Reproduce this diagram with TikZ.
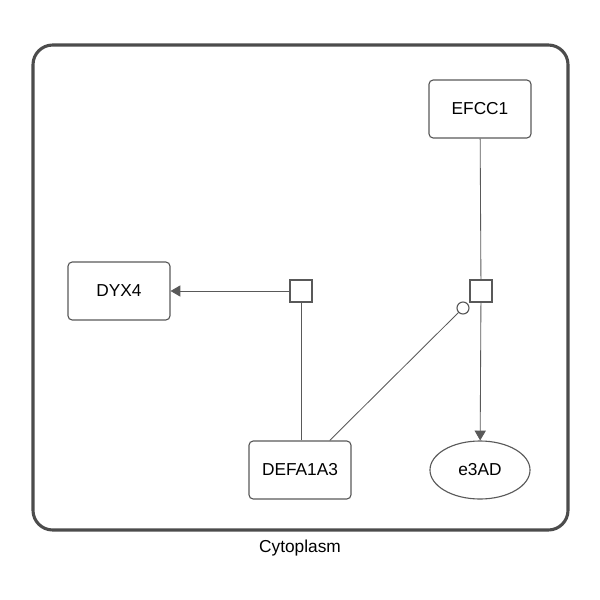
\documentclass[tikz,border=0pt]{standalone}
\usepackage{fontspec}
\setmainfont{Liberation Sans}
\usetikzlibrary{
    arrows.meta,
    shapes.geometric
}

\begin{document}
\begin{tikzpicture}[x=0.025cm,y=-0.025cm,
    line width=0.6pt,
    entity/.style={draw=black!65,line width=0.8pt,rounded corners=3pt,minimum width=2.55cm,minimum height=1.45cm,font=\fontsize{12.3}{14}\selectfont},
    process/.style={draw=black!65,line width=0.8pt,fill=white,minimum size=0.55cm,inner sep=0pt},
    link/.style={draw=black!65},
    prod/.style={draw=black!65,-{Triangle[length=7pt,width=8pt]}}
]

\useasboundingbox (0,0) rectangle (600,600);

% Compartment
\draw[black!70,line width=2.2pt,rounded corners=14pt] (33,45) rectangle (568,530);
\node[font=\fontsize{12.3}{14}\selectfont] (cyto) at (300,548) {Cytoplasm};

% Entities
\node[entity] (efcc) at (480,109) {EFCC1};
\node[entity] (dyx) at (119,291) {DYX4};
\node[entity] (defa) at (300,470) {DEFA1A3};
\node[draw=black!65,line width=0.8pt,ellipse,minimum width=2.5cm,minimum height=1.45cm,font=\fontsize{12.3}{14}\selectfont] (ead) at (480,470) {e3AD};

% Processes
\node[process] (p1) at (301,291) {};
\node[process] (p2) at (481,291) {};

% Modulation
\node[circle,draw=black!65,line width=0.8pt,fill=white,minimum size=0.3cm,inner sep=0pt] (mod) at (463,308) {};

% Connections
\draw[link] (efcc) -- (p2);
\draw[prod] (p2) -- (ead);
\draw[link] (defa) -- (mod);
\draw[link] (defa.north -| p1) -- (p1);
\draw[prod] (p1) -- (dyx);

\end{tikzpicture}
\end{document}
